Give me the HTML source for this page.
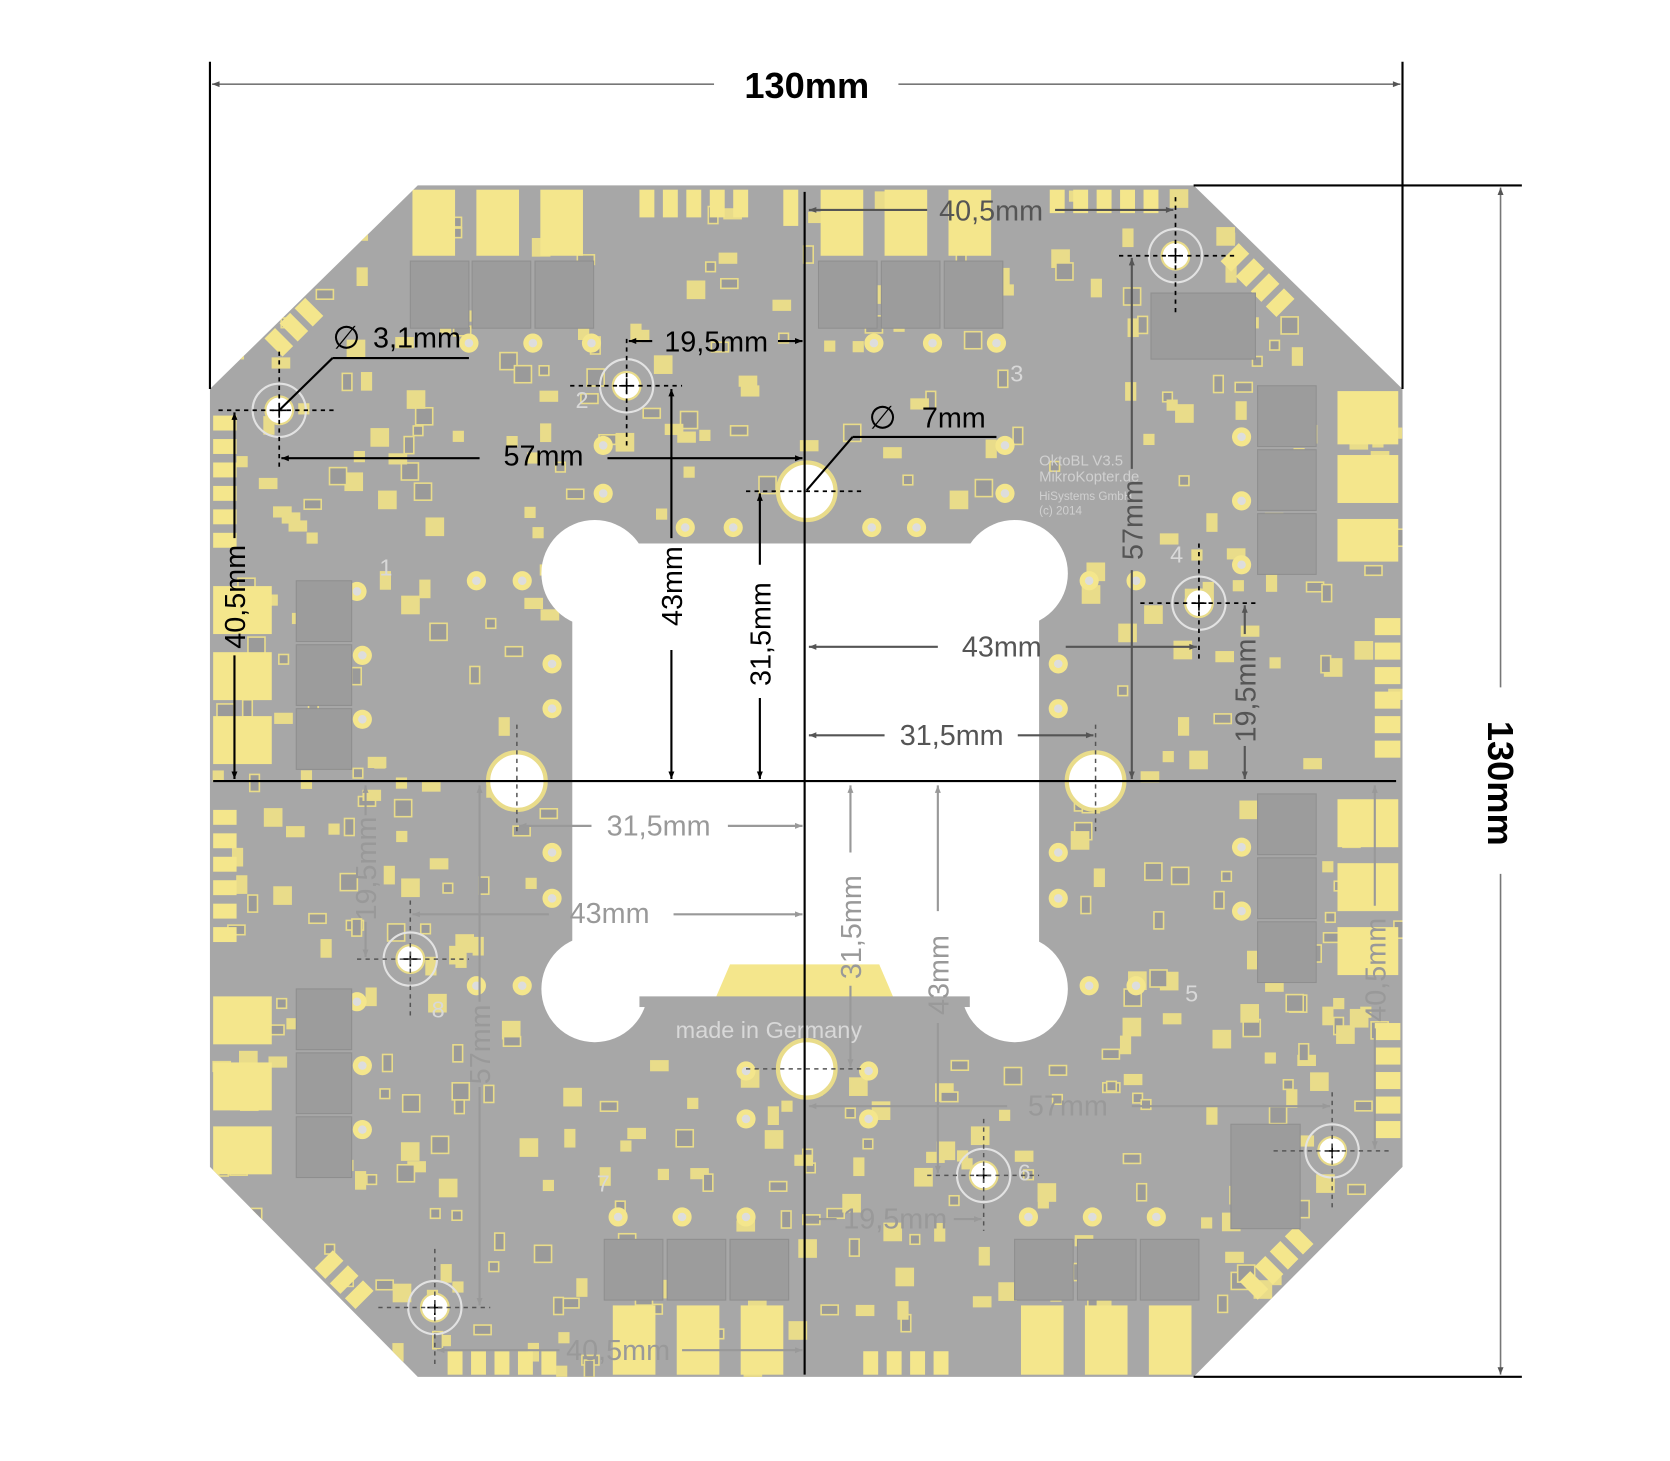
<!DOCTYPE html>
<html><head><meta charset="utf-8"><style>
html,body{margin:0;padding:0;background:#fff;}
svg{display:block;}
text{font-family:"Liberation Sans",Arial,sans-serif;}
</style></head><body>
<svg id="s" width="1670" height="1461" viewBox="0 0 1567 1371" preserveAspectRatio="none" xmlns="http://www.w3.org/2000/svg">
<defs>
<marker id="a" viewBox="0 0 10 10" refX="10" refY="5" markerWidth="9" markerHeight="7" orient="auto-start-reverse" markerUnits="userSpaceOnUse"><path d="M0,1 L10,5 L0,9 z" fill="#000"/></marker>
<marker id="g" viewBox="0 0 10 10" refX="10" refY="5" markerWidth="9" markerHeight="7" orient="auto-start-reverse" markerUnits="userSpaceOnUse"><path d="M0,1 L10,5 L0,9 z" fill="#555"/></marker>
<marker id="l" viewBox="0 0 10 10" refX="10" refY="5" markerWidth="9" markerHeight="7" orient="auto-start-reverse" markerUnits="userSpaceOnUse"><path d="M0,1 L10,5 L0,9 z" fill="#999"/></marker>
<clipPath id="bc"><polygon points="392,174 1120,174 1316,365 1316,1095 1120,1292 392,1292 197,1095 197,365"/></clipPath>
</defs>
<polygon points="392,174 1120,174 1316,365 1316,1095 1120,1292 392,1292 197,1095 197,365" fill="#a7a7a7"/>
<g id="deco" clip-path="url(#bc)"></g>
<g id="big" clip-path="url(#bc)" fill="#f4e68c">
 <rect x="387" y="178" width="40" height="62"/><rect x="447" y="178" width="40" height="62"/><rect x="507" y="178" width="40" height="62"/>
 <rect x="770" y="178" width="40" height="62"/><rect x="830" y="178" width="40" height="62"/><rect x="890" y="178" width="40" height="62"/>
 <rect x="600" y="178" width="14" height="26"/><rect x="622" y="178" width="14" height="26"/><rect x="644" y="178" width="14" height="26"/><rect x="666" y="178" width="14" height="26"/><rect x="688" y="178" width="14" height="26"/><rect x="735" y="178" width="14" height="34"/>
 <rect x="985" y="178" width="14" height="22"/><rect x="1007" y="178" width="14" height="22"/><rect x="1029" y="178" width="14" height="22"/><rect x="1051" y="178" width="14" height="22"/><rect x="1073" y="178" width="14" height="22"/>
 <rect x="1255" y="367" width="57" height="50"/><rect x="1255" y="427" width="57" height="45"/><rect x="1255" y="487" width="57" height="40"/>
 <rect x="1255" y="750" width="57" height="45"/><rect x="1255" y="810" width="57" height="45"/><rect x="1255" y="870" width="57" height="45"/>
 <rect x="1290" y="580" width="24" height="16"/><rect x="1290" y="603" width="24" height="16"/><rect x="1290" y="626" width="24" height="16"/><rect x="1290" y="649" width="24" height="16"/><rect x="1290" y="672" width="24" height="16"/><rect x="1290" y="695" width="24" height="16"/>
 <rect x="1290" y="960" width="24" height="16"/><rect x="1290" y="983" width="24" height="16"/><rect x="1290" y="1006" width="24" height="16"/><rect x="1290" y="1029" width="24" height="16"/><rect x="1290" y="1052" width="24" height="16"/>
 <rect x="200" y="550" width="55" height="45"/><rect x="200" y="612" width="55" height="45"/><rect x="200" y="672" width="55" height="45"/>
 <rect x="200" y="935" width="55" height="45"/><rect x="200" y="997" width="55" height="45"/><rect x="200" y="1057" width="55" height="45"/>
 <rect x="200" y="390" width="22" height="14"/><rect x="200" y="412" width="22" height="14"/><rect x="200" y="434" width="22" height="14"/><rect x="200" y="456" width="22" height="14"/><rect x="200" y="478" width="22" height="14"/><rect x="200" y="500" width="22" height="14"/>
 <rect x="200" y="760" width="22" height="14"/><rect x="200" y="782" width="22" height="14"/><rect x="200" y="804" width="22" height="14"/><rect x="200" y="826" width="22" height="14"/><rect x="200" y="848" width="22" height="14"/><rect x="200" y="870" width="22" height="14"/>
 <rect x="575" y="1225" width="40" height="65"/><rect x="635" y="1225" width="40" height="65"/><rect x="695" y="1225" width="40" height="65"/>
 <rect x="958" y="1225" width="40" height="65"/><rect x="1018" y="1225" width="40" height="65"/><rect x="1078" y="1225" width="40" height="65"/>
 <rect x="420" y="1268" width="14" height="22"/><rect x="442" y="1268" width="14" height="22"/><rect x="464" y="1268" width="14" height="22"/><rect x="486" y="1268" width="14" height="22"/><rect x="508" y="1268" width="14" height="22"/>
 <rect x="810" y="1268" width="14" height="22"/><rect x="832" y="1268" width="14" height="22"/><rect x="854" y="1268" width="14" height="22"/><rect x="876" y="1268" width="14" height="22"/>
 <g transform="rotate(-45 280 300)"><rect x="245" y="290" width="14" height="24"/><rect x="265" y="290" width="14" height="24"/><rect x="285" y="290" width="14" height="24"/></g>
 <g transform="rotate(45 1180 260)"><rect x="1145" y="250" width="14" height="24"/><rect x="1165" y="250" width="14" height="24"/><rect x="1185" y="250" width="14" height="24"/><rect x="1205" y="250" width="14" height="24"/></g>
 <g transform="rotate(45 330 1205)"><rect x="295" y="1195" width="14" height="24"/><rect x="315" y="1195" width="14" height="24"/><rect x="335" y="1195" width="14" height="24"/></g>
 <g transform="rotate(-45 1195 1185)"><rect x="1160" y="1175" width="14" height="24"/><rect x="1180" y="1175" width="14" height="24"/><rect x="1200" y="1175" width="14" height="24"/><rect x="1220" y="1175" width="14" height="24"/></g>
</g>
<g fill="#9c9c9c" stroke="#8f8f8f" stroke-width="1">
 <rect x="385" y="245" width="55" height="63"/><rect x="443" y="245" width="55" height="63"/><rect x="502" y="245" width="55" height="63"/>
 <rect x="768" y="245" width="55" height="63"/><rect x="827" y="245" width="55" height="63"/><rect x="886" y="245" width="55" height="63"/>
 <rect x="1180" y="362" width="55" height="57"/><rect x="1180" y="422" width="55" height="57"/><rect x="1180" y="482" width="55" height="57"/>
 <rect x="1180" y="745" width="55" height="57"/><rect x="1180" y="805" width="55" height="57"/><rect x="1180" y="865" width="55" height="57"/>
 <rect x="278" y="545" width="52" height="57"/><rect x="278" y="605" width="52" height="57"/><rect x="278" y="665" width="52" height="57"/>
 <rect x="278" y="928" width="52" height="57"/><rect x="278" y="988" width="52" height="57"/><rect x="278" y="1048" width="52" height="57"/>
 <rect x="567" y="1163" width="55" height="57"/><rect x="626" y="1163" width="55" height="57"/><rect x="685" y="1163" width="55" height="57"/>
 <rect x="952" y="1163" width="55" height="57"/><rect x="1011" y="1163" width="55" height="57"/><rect x="1070" y="1163" width="55" height="57"/>
 <rect x="1080" y="275" width="98" height="62"/><rect x="1155" y="1055" width="65" height="98"/>
</g>
<g fill="#fff">
 <rect x="537" y="510" width="438" height="432"/>
 <circle cx="558" cy="538" r="50"/><circle cx="952" cy="538" r="50"/><circle cx="558" cy="928" r="50"/><circle cx="952" cy="928" r="50"/>
</g>
<polygon points="685,905 825,905 840,940 670,940" fill="#f4e68c"/>
<rect x="600" y="935" width="310" height="10" fill="#a7a7a7"/>
<text x="634" y="974" font-size="22" fill="#d8d8d8" font-family="Liberation Mono,monospace">made in Germany</text>
<g fill="#d0d0d0" font-family="Liberation Mono,monospace" font-size="14">
<text x="975" y="437">OktoBL V3.5</text><text x="975" y="452">MikroKopter.de</text><text x="975" y="469" font-size="11">HiSystems GmbH</text><text x="975" y="483" font-size="11">(c) 2014</text>
</g>
<g fill="#d8d8d8" font-size="22"><text x="540" y="383">2</text><text x="948" y="358">3</text><text x="1098" y="528">4</text><text x="1112" y="940">5</text><text x="405" y="955">8</text><text x="356" y="540">1</text><text x="560" y="1118">7</text><text x="955" y="1108">6</text></g>
<g fill="#fff" stroke="#e9dc8a" stroke-width="4">
 <circle cx="757" cy="461" r="27"/><circle cx="485" cy="733" r="27"/><circle cx="1028" cy="733" r="27"/><circle cx="757" cy="1003" r="27"/>
</g>
<g id="mh"></g>
<line x1="755" y1="180" x2="755" y2="1290" stroke="#000" stroke-width="2"/>
<line x1="200" y1="733" x2="1310" y2="733" stroke="#000" stroke-width="2"/>
<g stroke="#000" stroke-width="2" fill="none">
 <line x1="197" y1="58" x2="197" y2="365"/><line x1="1316" y1="58" x2="1316" y2="365"/>
 <line x1="1120" y1="174" x2="1428" y2="174"/><line x1="1120" y1="1292" x2="1428" y2="1292"/>
</g>
<g stroke="#777" stroke-width="1.5">
 <line x1="199" y1="79" x2="670" y2="79" marker-start="url(#g)"/><line x1="843" y1="79" x2="1314" y2="79" marker-end="url(#g)"/>
 <line x1="1408" y1="176" x2="1408" y2="645" marker-start="url(#g)"/><line x1="1408" y1="820" x2="1408" y2="1290" marker-end="url(#g)"/>
</g>
<text x="757" y="92" font-size="34" font-weight="bold" text-anchor="middle">130mm</text>
<text transform="translate(1396,735) rotate(90)" font-size="34" font-weight="bold" text-anchor="middle">130mm</text>
<g stroke="#000" stroke-width="1.6" stroke-dasharray="4,4" fill="none">
 <line x1="205" y1="385" x2="315" y2="385"/><line x1="262" y1="330" x2="262" y2="440"/>
 <line x1="535" y1="362" x2="640" y2="362"/><line x1="588" y1="318" x2="588" y2="418"/>
 <line x1="700" y1="461" x2="810" y2="461"/>
 <line x1="1050" y1="240" x2="1160" y2="240"/><line x1="1103" y1="185" x2="1103" y2="295"/>
 <line x1="1070" y1="566" x2="1180" y2="566"/><line x1="1125" y1="510" x2="1125" y2="620"/>
</g>
<g stroke="#555" stroke-width="1.4" stroke-dasharray="4,4" fill="none">
 <line x1="335" y1="900" x2="440" y2="900"/><line x1="385" y1="845" x2="385" y2="955"/>
 <line x1="355" y1="1227" x2="460" y2="1227"/><line x1="408" y1="1172" x2="408" y2="1282"/>
 <line x1="870" y1="1103" x2="975" y2="1103"/><line x1="923" y1="1050" x2="923" y2="1155"/>
 <line x1="1195" y1="1080" x2="1305" y2="1080"/><line x1="1250" y1="1025" x2="1250" y2="1135"/>
 <line x1="700" y1="1003" x2="810" y2="1003"/><line x1="485" y1="680" x2="485" y2="780"/><line x1="1028" y1="680" x2="1028" y2="780"/>
</g>
<g stroke="#000" stroke-width="2" fill="none">
 <line x1="262" y1="385" x2="312" y2="336"/><line x1="312" y1="336" x2="440" y2="336"/>
 <line x1="757" y1="460" x2="800" y2="410"/><line x1="800" y1="410" x2="935" y2="410"/>
 <line x1="612" y1="320" x2="590" y2="320" marker-end="url(#a)"/><line x1="730" y1="320" x2="753" y2="320" marker-end="url(#a)"/>
 <line x1="450" y1="430" x2="264" y2="430" marker-end="url(#a)"/><line x1="570" y1="430" x2="753" y2="430" marker-end="url(#a)"/>
 <line x1="630" y1="505" x2="630" y2="365" marker-end="url(#a)"/><line x1="630" y1="610" x2="630" y2="731" marker-end="url(#a)"/>
 <line x1="713" y1="530" x2="713" y2="463" marker-end="url(#a)"/><line x1="713" y1="655" x2="713" y2="731" marker-end="url(#a)"/>
 <line x1="220" y1="505" x2="220" y2="387" marker-end="url(#a)"/><line x1="220" y1="615" x2="220" y2="731" marker-end="url(#a)"/>
</g>
<g font-size="27" fill="#000">
 <text x="312" y="327" font-size="30">∅</text><text x="350" y="326">3,1mm</text>
 <text x="815" y="402" font-size="30">∅</text><text x="865" y="401">7mm</text>
 <text x="672" y="330" text-anchor="middle">19,5mm</text>
 <text x="510" y="437" text-anchor="middle">57mm</text>
 <text transform="translate(640,550) rotate(-90)" text-anchor="middle">43mm</text>
 <text transform="translate(723,595) rotate(-90)" text-anchor="middle">31,5mm</text>
 <text transform="translate(230,560) rotate(-90)" text-anchor="middle">40,5mm</text>
</g>
<g stroke="#555" stroke-width="2" fill="none">
 <line x1="870" y1="197" x2="759" y2="197" marker-end="url(#g)"/><line x1="990" y1="197" x2="1101" y2="197" marker-end="url(#g)"/>
 <line x1="880" y1="607" x2="759" y2="607" marker-end="url(#g)"/><line x1="1000" y1="607" x2="1123" y2="607" marker-end="url(#g)"/>
 <line x1="830" y1="690" x2="759" y2="690" marker-end="url(#g)"/><line x1="955" y1="690" x2="1026" y2="690" marker-end="url(#g)"/>
 <line x1="1062" y1="440" x2="1062" y2="242" marker-end="url(#g)"/><line x1="1062" y1="535" x2="1062" y2="731" marker-end="url(#g)"/>
 <line x1="1168" y1="595" x2="1168" y2="568" marker-end="url(#g)"/><line x1="1168" y1="700" x2="1168" y2="731" marker-end="url(#g)"/>
</g>
<g font-size="27" fill="#555">
 <text x="930" y="207" text-anchor="middle">40,5mm</text>
 <text x="940" y="616" text-anchor="middle">43mm</text>
 <text x="893" y="699" text-anchor="middle">31,5mm</text>
 <text transform="translate(1072,488) rotate(-90)" text-anchor="middle">57mm</text>
 <text transform="translate(1178,648) rotate(-90)" text-anchor="middle">19,5mm</text>
</g>
<g stroke="#999" stroke-width="2" fill="none">
 <line x1="555" y1="775" x2="487" y2="775" marker-end="url(#l)"/><line x1="683" y1="775" x2="753" y2="775" marker-end="url(#l)"/>
 <line x1="515" y1="858" x2="387" y2="858" marker-end="url(#l)"/><line x1="632" y1="858" x2="753" y2="858" marker-end="url(#l)"/>
 <line x1="343" y1="765" x2="343" y2="737" marker-end="url(#l)"/><line x1="343" y1="865" x2="343" y2="898" marker-end="url(#l)"/>
 <line x1="450" y1="940" x2="450" y2="737" marker-end="url(#l)"/><line x1="450" y1="1020" x2="450" y2="1225" marker-end="url(#l)"/>
 <line x1="525" y1="1267" x2="410" y2="1267" marker-end="url(#l)"/><line x1="640" y1="1267" x2="753" y2="1267" marker-end="url(#l)"/>
 <line x1="798" y1="800" x2="798" y2="737" marker-end="url(#l)"/><line x1="798" y1="925" x2="798" y2="1001" marker-end="url(#l)"/>
 <line x1="880" y1="855" x2="880" y2="737" marker-end="url(#l)"/><line x1="880" y1="960" x2="880" y2="1101" marker-end="url(#l)"/>
 <line x1="945" y1="1038" x2="759" y2="1038" marker-end="url(#l)"/><line x1="1062" y1="1038" x2="1248" y2="1038" marker-end="url(#l)"/>
 <line x1="785" y1="1144" x2="759" y2="1144" marker-end="url(#l)"/><line x1="895" y1="1144" x2="921" y2="1144" marker-end="url(#l)"/>
 <line x1="1290" y1="850" x2="1290" y2="737" marker-end="url(#l)"/><line x1="1290" y1="965" x2="1290" y2="1078" marker-end="url(#l)"/>
</g>
<g font-size="27" fill="#999">
 <text x="618" y="784" text-anchor="middle">31,5mm</text>
 <text x="572" y="866" text-anchor="middle">43mm</text>
 <text x="580" y="1276" text-anchor="middle">40,5mm</text>
 <text x="1002" y="1047" text-anchor="middle">57mm</text>
 <text x="840" y="1153" text-anchor="middle">19,5mm</text>
 <text transform="translate(353,815) rotate(-90)" text-anchor="middle">19,5mm</text>
 <text transform="translate(460,980) rotate(-90)" text-anchor="middle">57mm</text>
 <text transform="translate(808,870) rotate(-90)" text-anchor="middle">31,5mm</text>
 <text transform="translate(890,915) rotate(-90)" text-anchor="middle">43mm</text>
 <text transform="translate(1300,910) rotate(-90)" text-anchor="middle">40,5mm</text>
</g>
<script>
(function(){
var NS="http://www.w3.org/2000/svg";
var d=document.getElementById("deco");
var seed=7;function r(){seed=(seed*16807)%2147483647;return seed/2147483647;}
function inCut(x,y){if(x>510&&x<1005&&y>480&&y<985)return true;return false;}
for(var i=0;i<650;i++){
 var x=200+r()*1110,y=178+r()*1110;
 if(inCut(x,y))continue;
 var w=r()<0.5?9:16,h=r()<0.5?16:9;
 var e=document.createElementNS(NS,"rect");
 e.setAttribute("x",x);e.setAttribute("y",y);e.setAttribute("width",w);e.setAttribute("height",h);
 e.setAttribute("fill",r()<0.6?"#e9dc8a":"#9a9a9a");
 e.setAttribute("stroke","#e9dc8a");e.setAttribute("stroke-width","1.5");
 d.appendChild(e);
}
var pads=[[447,545],[490,545],[1022,545],[1066,545],[447,925],[490,925],[1022,925],[1066,925],[566,463],[943,463],[943,418],[566,418],[518,623],[518,665],[993,623],[993,665],[518,800],[518,843],[993,800],[993,843],[643,495],[688,495],[818,495],[860,495],[700,1005],[815,1005],[700,1050],[815,1050],[335,555],[340,615],[340,675],[1165,410],[1165,470],[1165,530],[1165,795],[1165,855],[335,940],[340,1000],[340,1060],[580,1142],[640,1142],[700,1142],[965,1142],[1025,1142],[1085,1142],[440,322],[500,322],[555,322],[820,322],[875,322],[935,322]];
pads.forEach(function(p){var c=document.createElementNS(NS,"circle");c.setAttribute("cx",p[0]);c.setAttribute("cy",p[1]);c.setAttribute("r",9);c.setAttribute("fill","#f4e68c");d.appendChild(c);var c2=document.createElementNS(NS,"circle");c2.setAttribute("cx",p[0]);c2.setAttribute("cy",p[1]);c2.setAttribute("r",4);c2.setAttribute("fill","#ddd");d.appendChild(c2);});
var mh=document.getElementById("mh");
[[262,385],[588,362],[1103,240],[1125,566],[385,900],[408,1227],[923,1103],[1250,1080]].forEach(function(p){
 var c=document.createElementNS(NS,"circle");c.setAttribute("cx",p[0]);c.setAttribute("cy",p[1]);c.setAttribute("r",25);c.setAttribute("fill","none");c.setAttribute("stroke","#e2e2e2");c.setAttribute("stroke-width","2");mh.appendChild(c);
 var c2=document.createElementNS(NS,"circle");c2.setAttribute("cx",p[0]);c2.setAttribute("cy",p[1]);c2.setAttribute("r",13);c2.setAttribute("fill","#fff");c2.setAttribute("stroke","#e9dc8a");c2.setAttribute("stroke-width","2");mh.appendChild(c2);
 var l=document.createElementNS(NS,"path");l.setAttribute("d","M"+(p[0]-7)+","+p[1]+"h14M"+p[0]+","+(p[1]-7)+"v14");l.setAttribute("stroke","#000");l.setAttribute("stroke-width","1.5");mh.appendChild(l);
});
})();
</script>
</svg>
</body></html>
